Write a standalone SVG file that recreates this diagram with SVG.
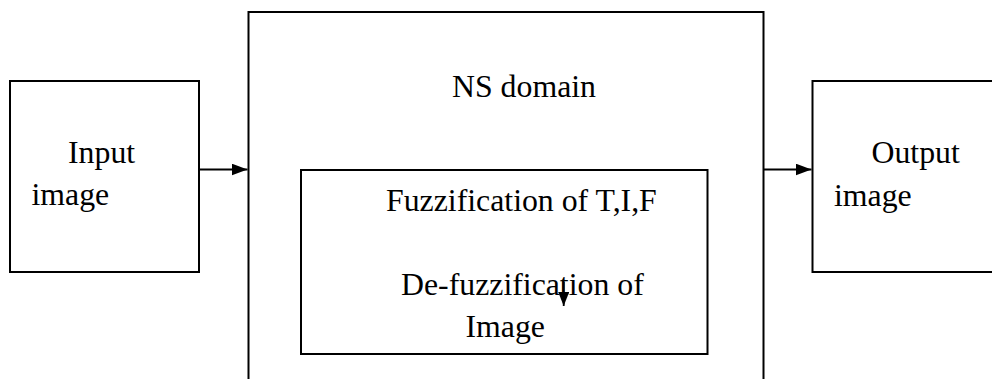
<svg xmlns="http://www.w3.org/2000/svg" width="992" height="379" viewBox="0 0 992 379">
<style>
.box{fill:#fff;stroke:#000;stroke-width:2}
.t{font-family:"Liberation Serif","Times New Roman",serif;font-size:31.8px;fill:#000}
.ln{stroke:#000;stroke-width:1.8;fill:none}
</style>
<defs>
<marker id="ah" viewBox="0 0 16 12" refX="16" refY="6" markerWidth="16" markerHeight="12" markerUnits="userSpaceOnUse" orient="auto">
<path d="M0,0 L16,6 L0,12 z" fill="#000"/>
</marker>
<marker id="ahs" viewBox="0 0 14 11" refX="14" refY="5.5" markerWidth="14" markerHeight="11" markerUnits="userSpaceOnUse" orient="auto">
<path d="M0,0 L14,5.5 L0,11 z" fill="#000"/>
</marker>
</defs>
<rect width="992" height="379" fill="#fff"/>
<g id="input">
<rect class="box" x="10" y="81" width="189" height="191"/>
<text class="t" x="68" y="163">Input</text>
<text class="t" x="31.5" y="205">image</text>
</g>
<g id="ns">
<rect class="box" x="248.5" y="12" width="515" height="380"/>
<text class="t" x="452" y="96.5">NS domain</text>
</g>
<g id="inner">
<rect class="box" x="301" y="170" width="406.5" height="184"/>
<text class="t" x="386" y="210.5">Fuzzification of T,I,F</text>
<text class="t" x="401" y="295">De-fuzzification of</text>
<text class="t" x="465.5" y="336.5">Image</text>
</g>
<g id="output">
<rect class="box" x="812.5" y="81" width="200" height="191"/>
<text class="t" x="871.5" y="163">Output</text>
<text class="t" x="834" y="205.5">image</text>
</g>
<g id="connectors">
<line class="ln" x1="199" y1="169.5" x2="247.5" y2="169.5" marker-end="url(#ah)"/>
<line class="ln" x1="763.5" y1="169.5" x2="811.5" y2="169.5" marker-end="url(#ah)"/>
<line class="ln" x1="563.7" y1="282" x2="563.7" y2="306" marker-end="url(#ahs)"/>
</g>
</svg>
